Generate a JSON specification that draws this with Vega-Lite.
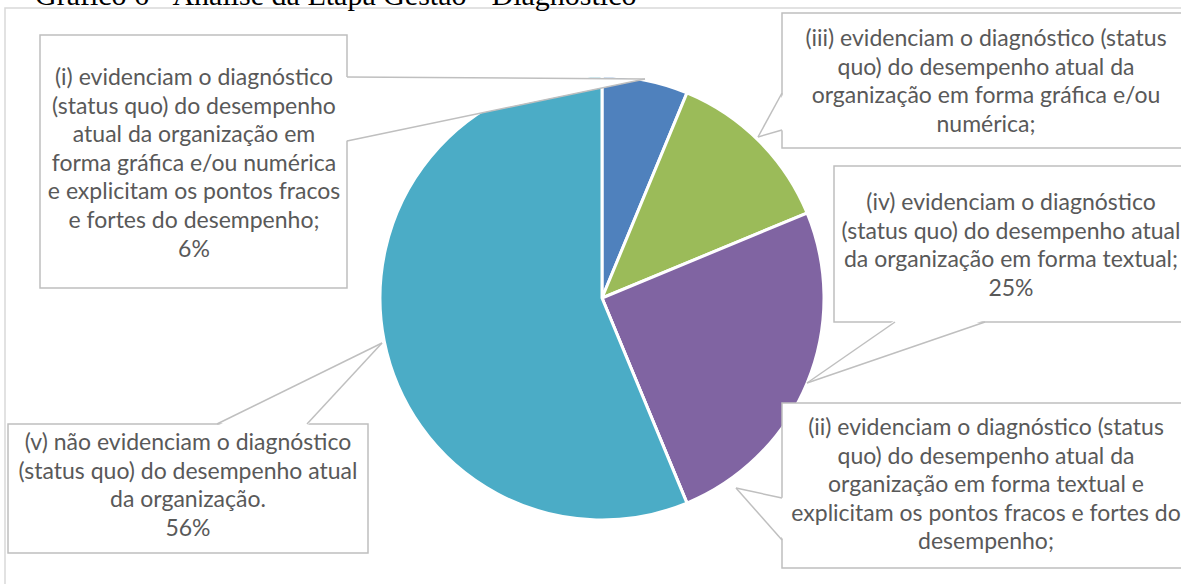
{
  "$schema": "https://vega.github.io/schema/vega-lite/v6.json",
  "width": 1181,
  "height": 584,
  "padding": 0,
  "autosize": {"type": "none"},
  "background": "white",
  "config": {"view": {"stroke": null}},
  "datasets": {
    "frame": [{"x": -597, "x2": 593, "y": 290, "y2": -302}],
    "slices": [
      {"cat": "(i)", "ord": 1, "pct": 6.25},
      {"cat": "(iii)", "ord": 2, "pct": 12.5},
      {"cat": "(iv)", "ord": 3, "pct": 25},
      {"cat": "(ii)", "ord": 4, "pct": 0},
      {"cat": "(v)", "ord": 5, "pct": 56.25}
    ],
    "boxes": [
      {"cat": "(i)", "x": -562, "x2": -255, "y": 263, "y2": 10},
      {"cat": "(iii)", "x": 180, "x2": 588, "y": 285, "y2": 150},
      {"cat": "(iv)", "x": 232, "x2": 600, "y": 132, "y2": -24},
      {"cat": "(ii)", "x": 180, "x2": 588, "y": -105, "y2": -270},
      {"cat": "(v)", "x": -594, "x2": -234, "y": -126, "y2": -255}
    ],
    "tailsV": [
      {"cat": "(i)", "x": -257, "y": 221, "y2": 157},
      {"cat": "(i)", "x": 43, "y": 219, "y2": 219},
      {"cat": "(iii)", "x": 182, "y": 205, "y2": 168},
      {"cat": "(iii)", "x": 156, "y": 161, "y2": 161},
      {"cat": "(ii)", "x": 182, "y": -200, "y2": -242},
      {"cat": "(ii)", "x": 134, "y": -190, "y2": -190}
    ],
    "tailsH": [
      {"cat": "(iv)", "y": -22, "x": 293, "x2": 383},
      {"cat": "(iv)", "y": -85, "x": 205, "x2": 205},
      {"cat": "(v)", "y": -128, "x": -385, "x2": -295},
      {"cat": "(v)", "y": -45, "x": -220, "x2": -220}
    ],
    "edges": [
      {"x": -255, "y": 221, "x2": 43, "y2": 219},
      {"x": -255, "y": 157, "x2": 43, "y2": 219},
      {"x": 180, "y": 205, "x2": 156, "y2": 161},
      {"x": 180, "y": 168, "x2": 156, "y2": 161},
      {"x": 293, "y": -24, "x2": 205, "y2": -85},
      {"x": 383, "y": -24, "x2": 205, "y2": -85},
      {"x": 180, "y": -200, "x2": 134, "y2": -190},
      {"x": 180, "y": -242, "x2": 134, "y2": -190},
      {"x": -385, "y": -126, "x2": -220, "y2": -45},
      {"x": -295, "y": -126, "x2": -220, "y2": -45}
    ],
    "labels": [
      {"cat": "(i)", "x": -408, "y": 220, "label": "(i) evidenciam o diagnóstico\n(status quo) do desempenho\natual da organização em\nforma gráfica e/ou numérica\ne explicitam os pontos fracos\ne fortes do desempenho;\n6%"},
      {"cat": "(iii)", "x": 384, "y": 259, "label": "(iii) evidenciam o diagnóstico (status\nquo) do desempenho atual da\norganização em forma gráfica e/ou\nnumérica;"},
      {"cat": "(iv)", "x": 409, "y": 95, "label": "(iv) evidenciam o diagnóstico\n(status quo) do desempenho atual\nda organização em forma textual;\n25%"},
      {"cat": "(ii)", "x": 384, "y": -130, "label": "(ii) evidenciam o diagnóstico (status\nquo) do desempenho atual da\norganização em forma textual e\nexplicitam os pontos fracos e fortes do\ndesempenho;"},
      {"cat": "(v)", "x": -414, "y": -145, "label": "(v) não evidenciam o diagnóstico\n(status quo) do desempenho atual\nda organização.\n56%"}
    ],
    "title": [{"x": -567, "y": 293, "label": "Gráfico 6 - Análise da Etapa Gestão - Diagnóstico"}]
  },
  "layer": [
    {
      "data": {"name": "frame"},
      "mark": {"type": "rect", "fill": "white", "stroke": "#D9D9D9", "strokeWidth": 1.5},
      "encoding": {
        "x": {"field": "x", "type": "quantitative", "scale": {"domain": [-602, 579], "nice": false, "zero": false}, "axis": null},
        "x2": {"field": "x2"},
        "y": {"field": "y", "type": "quantitative", "scale": {"domain": [-286, 298], "nice": false, "zero": false}, "axis": null},
        "y2": {"field": "y2"}
      }
    },
    {
      "data": {"name": "slices"},
      "mark": {"type": "arc", "outerRadius": 222, "stroke": "white", "strokeWidth": 3},
      "encoding": {
        "x": {"datum": 0, "type": "quantitative"},
        "y": {"datum": 0, "type": "quantitative"},
        "theta": {"field": "pct", "type": "quantitative", "stack": true},
        "order": {"field": "ord", "type": "quantitative"},
        "color": {"field": "cat", "type": "nominal", "legend": null,
          "scale": {"domain": ["(i)", "(iii)", "(iv)", "(ii)", "(v)"], "range": ["#4F81BD", "#9BBB59", "#8064A2", "#C0504D", "#4BACC6"]}}
      }
    },
    {
      "data": {"name": "boxes"},
      "mark": {"type": "rect", "fill": "white", "stroke": "#BFBFBF", "strokeWidth": 1.5},
      "encoding": {
        "x": {"field": "x", "type": "quantitative"},
        "x2": {"field": "x2"},
        "y": {"field": "y", "type": "quantitative"},
        "y2": {"field": "y2"}
      }
    },
    {
      "data": {"name": "tailsV"},
      "mark": {"type": "area", "fill": "white", "opacity": 1, "interpolate": "linear"},
      "encoding": {
        "x": {"field": "x", "type": "quantitative"},
        "y": {"field": "y", "type": "quantitative"},
        "y2": {"field": "y2"},
        "detail": {"field": "cat"}
      }
    },
    {
      "data": {"name": "tailsH"},
      "mark": {"type": "area", "fill": "white", "opacity": 1, "interpolate": "linear", "orient": "horizontal"},
      "encoding": {
        "y": {"field": "y", "type": "quantitative"},
        "x": {"field": "x", "type": "quantitative"},
        "x2": {"field": "x2"},
        "detail": {"field": "cat"}
      }
    },
    {
      "data": {"name": "edges"},
      "mark": {"type": "rule", "stroke": "#BFBFBF", "strokeWidth": 1.5},
      "encoding": {
        "x": {"field": "x", "type": "quantitative"},
        "y": {"field": "y", "type": "quantitative"},
        "x2": {"field": "x2"},
        "y2": {"field": "y2"}
      }
    },
    {
      "data": {"name": "labels"},
      "mark": {"type": "text", "font": "Lato", "fontSize": 23, "lineHeight": 28.6, "fill": "#595959", "align": "center", "baseline": "middle", "lineBreak": "\n"},
      "encoding": {
        "x": {"field": "x", "type": "quantitative"},
        "y": {"field": "y", "type": "quantitative"},
        "text": {"field": "label"}
      }
    },
    {
      "data": {"name": "title"},
      "mark": {"type": "text", "font": "Liberation Serif", "fontSize": 30, "fill": "black", "align": "left", "baseline": "alphabetic"},
      "encoding": {
        "x": {"field": "x", "type": "quantitative"},
        "y": {"field": "y", "type": "quantitative"},
        "text": {"field": "label"}
      }
    }
  ]
}
